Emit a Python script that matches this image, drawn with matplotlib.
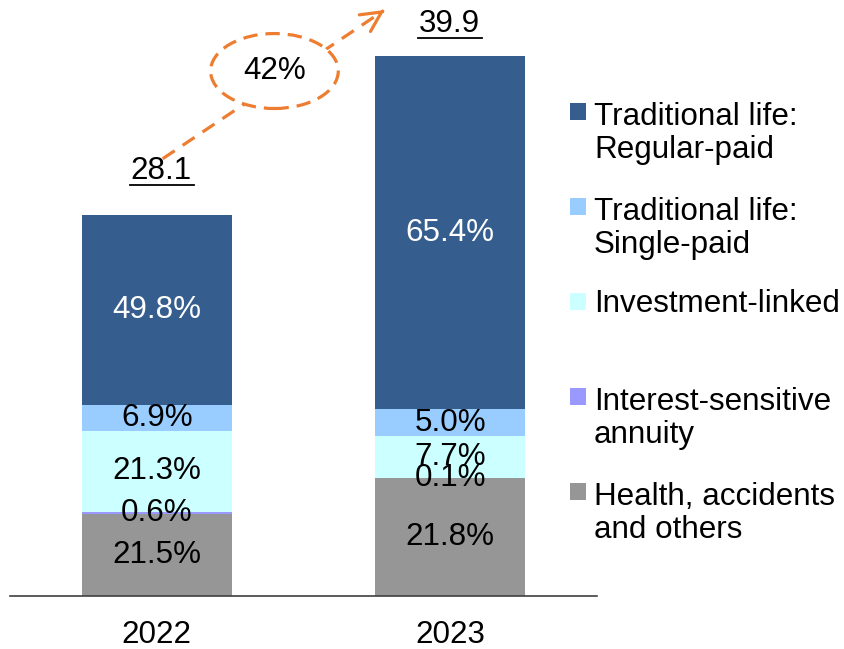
import matplotlib
matplotlib.use("Agg")
import matplotlib.pyplot as plt
from matplotlib.patches import Ellipse, Rectangle
from matplotlib.lines import Line2D
import numpy as np

plt.rcParams['font.family'] = ['Liberation Sans', 'DejaVu Sans']

years = ["2022", "2023"]
totals = [28.1, 39.9]
categories = ["Health, accidents\nand others", "Interest-sensitive\nannuity", "Investment-linked",
              "Traditional life:\nSingle-paid", "Traditional life:\nRegular-paid"]
shares = {
    "Health, accidents\nand others": [21.5, 21.8],
    "Interest-sensitive\nannuity": [0.6, 0.1],
    "Investment-linked": [21.3, 7.7],
    "Traditional life:\nSingle-paid": [6.9, 5.0],
    "Traditional life:\nRegular-paid": [49.8, 65.4],
}
colors = ["#969696", "#9999FF", "#CCFFFF", "#99CCFF", "#355E8E"]
label_colors = ["black", "black", "black", "black", "white"]
growth_label = "42%"

FS = 22.6
fig = plt.figure(figsize=(8.45, 6.49), dpi=100)
W, H = 845, 649
base_px = 596
ax = fig.add_axes([10 / W, (H - base_px) / H, 587 / W, base_px / H])
ax.set_xlim(-0.5, 1.5)
ax.set_ylim(0, 44.05)

x = np.arange(len(years))
bottom = np.zeros(len(years))
for cat, col, lc in zip(categories, colors, label_colors):
    vals = np.array(shares[cat]) / 100 * np.array(totals)
    ax.bar(x, vals, width=0.51, bottom=bottom, color=col, edgecolor='none', zorder=2)
    for xi, v, b, s in zip(x, vals, bottom, shares[cat]):
        ax.text(xi, b + v / 2, f"{s:.1f}%", ha='center', va='center', fontsize=FS, color=lc, zorder=3)
    bottom += vals

# totals with underline
offsets_pt = [(3, 26.5), (-1, 17.3)]
tlabels = []
for xi, t, off in zip(x, totals, offsets_pt):
    tl = ax.annotate(f"{t}", xy=(xi, t), xytext=off, textcoords='offset points',
                     ha='center', va='baseline', fontsize=FS, annotation_clip=False)
    tlabels.append(tl)

for s in ['top', 'right', 'left']:
    ax.spines[s].set_visible(False)
ax.spines['bottom'].set_color('#404040')
ax.spines['bottom'].set_linewidth(1.2)
ax.set_yticks([])
ax.set_xticks(x)
ax.set_xticklabels(years, fontsize=FS)
ax.tick_params(axis='x', length=0, pad=17.5)

# growth arrow
start = (0.0204, 32.32)
tip = (0.776, 43.31)
orange = "#ED7D31"
d = np.array(tip) - np.array(start)
near = np.array(tip) - d * 0.01
ax.plot([start[0], near[0]], [start[1], near[1]], color=orange, lw=2.3, ls=(0, (4.5, 3)), clip_on=False, zorder=4)
ax.annotate('', xy=tip, xytext=tuple(near),
            arrowprops=dict(arrowstyle='->', color=orange, lw=2.3, mutation_scale=36, shrinkA=0, shrinkB=0),
            annotation_clip=False, zorder=5)
ell = Ellipse((0.401, 38.8), 0.435, 5.54, facecolor='white', edgecolor=orange, lw=2.3,
              ls=(0, (4.5, 2.5)), clip_on=False, zorder=6)
ax.add_patch(ell)
ax.text(0.401, 38.8, growth_label, ha='center', va='center', fontsize=FS, zorder=7)

# legend (manual)
leg_order = list(reversed(range(len(categories))))
base_y = 122
line_px = 36
for k, i in enumerate(leg_order):
    by = base_y + k * 95
    nlines = categories[i].count("\n") + 1
    fig.patches.append(Rectangle((570 / W, (H - by + 2) / H), 16 / W, 17 / H,
                                 transform=fig.transFigure, facecolor=colors[i], edgecolor='none'))
    last_base = by + (nlines - 1) * line_px
    fig.text(594 / W, (H - last_base) / H, categories[i], fontsize=FS, va='baseline', ha='left',
             linespacing=1.15)

# underline totals
fig.canvas.draw()
r = fig.canvas.get_renderer()
for tl in tlabels:
    bb = tl.get_window_extent(r)
    fig.lines.append(Line2D([bb.x0 / W, (bb.x1 + 3) / W], [(bb.y0 + 1) / H, (bb.y0 + 1) / H],
                            transform=fig.transFigure, color='black', lw=1.3))

fig.savefig("out.png", dpi=100)
